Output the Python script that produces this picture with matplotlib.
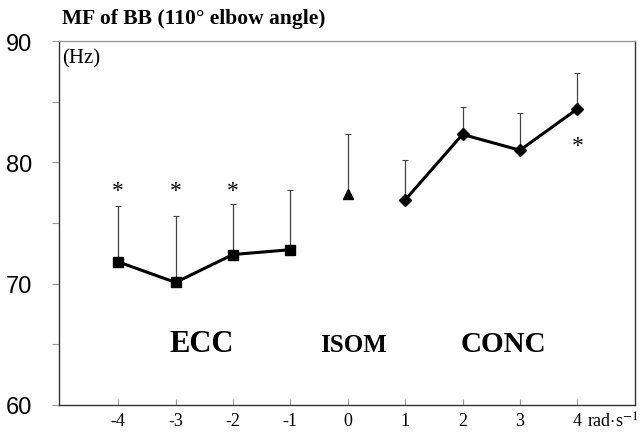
import matplotlib.pyplot as plt

plt.rcParams['mathtext.fontset'] = 'stix'

# --- data ---
ecc_x = [-4, -3, -2, -1]
ecc_mf = [71.8, 70.1, 72.4, 72.8]
ecc_sd = [4.6, 5.5, 4.2, 4.9]

isom_x = [0]
isom_mf = [77.4]
isom_sd = [4.9]

conc_x = [1, 2, 3, 4]
conc_mf = [76.9, 82.3, 81.0, 84.4]
conc_sd = [3.3, 2.3, 3.1, 3.0]

star_x = [-4, -3, -2, 4]
star_y = [78.0, 78.0, 78.0, 81.7]

group_labels = ['ECC', 'ISOM', 'CONC']
group_x = [-2.54, 0.1, 2.72]
group_size = [22, 18, 21]

xticks = [-4, -3, -2, -1, 0, 1, 2, 3, 4]
yticks = [60, 65, 70, 75, 80, 85, 90]
ylabels = ['60', '', '70', '', '80', '', '90']

serif = 'Liberation Serif'
sans = 'Liberation Sans'

fig = plt.figure(figsize=(6.44, 4.35), dpi=100)
ax = fig.add_axes([0.0916, 0.0667, 0.894, 0.8367])

err_kw = dict(fmt='none', ecolor='#444444', elinewidth=0.9, capsize=2.5, capthick=0.8)
ax.errorbar(ecc_x, ecc_mf, yerr=[[0] * 4, ecc_sd], **err_kw)
ax.errorbar(isom_x, isom_mf, yerr=[[0], isom_sd], **err_kw)
ax.errorbar(conc_x, conc_mf, yerr=[[0] * 4, conc_sd], **err_kw)

ax.plot(ecc_x, ecc_mf, color='black', lw=2.2, marker='s', ms=7.5)
ax.plot(isom_x, isom_mf, color='black', lw=0, marker='^', ms=7.5)
ax.plot(conc_x, conc_mf, color='black', lw=2.2, marker='D', ms=6)

for x, y in zip(star_x, star_y):
    ax.text(x, y - 0.75, '*', family=serif, fontsize=17, ha='center', va='baseline')

for lab, x, s in zip(group_labels, group_x, group_size):
    ax.text(x, 64.45, lab, family=serif, fontweight='bold', fontsize=s,
            ha='center', va='baseline')

ax.text(0.006, 0.94, '(Hz)', transform=ax.transAxes, family=serif, fontsize=15,
        ha='left', va='baseline')

ax.set_xlim(-5.03, 5.0)
ax.set_ylim(60, 90)
ax.set_xticks(xticks)
ax.set_xticklabels([str(t) for t in xticks], family=serif, fontsize=13)
ax.set_yticks(yticks)
ax.set_yticklabels(ylabels, family=sans, fontsize=17)
ax.tick_params(axis='y', direction='out', length=5, width=0.8, color='#999999', pad=14)
ax.tick_params(axis='x', direction='in', length=4, width=0.8, color='#999999', pad=5)

ax.annotate(r'rad$\cdot$s$^{-1}$', xy=(4, 60), xycoords='data', xytext=(7, -5),
            textcoords='offset points', family=serif, fontsize=13,
            ha='left', va='top', annotation_clip=False)

for side in ['left', 'bottom', 'right']:
    ax.spines[side].set_linewidth(1.0)
    ax.spines[side].set_color('#333333')
ax.spines['top'].set_linewidth(1.0)
ax.spines['top'].set_color('#999999')

fig.text(0.096, 0.957, 'MF of BB (110\u00b0 elbow angle)', family=serif,
         fontweight='bold', fontsize=15.5, ha='left', va='center')

fig.savefig('out.png', dpi=100)
